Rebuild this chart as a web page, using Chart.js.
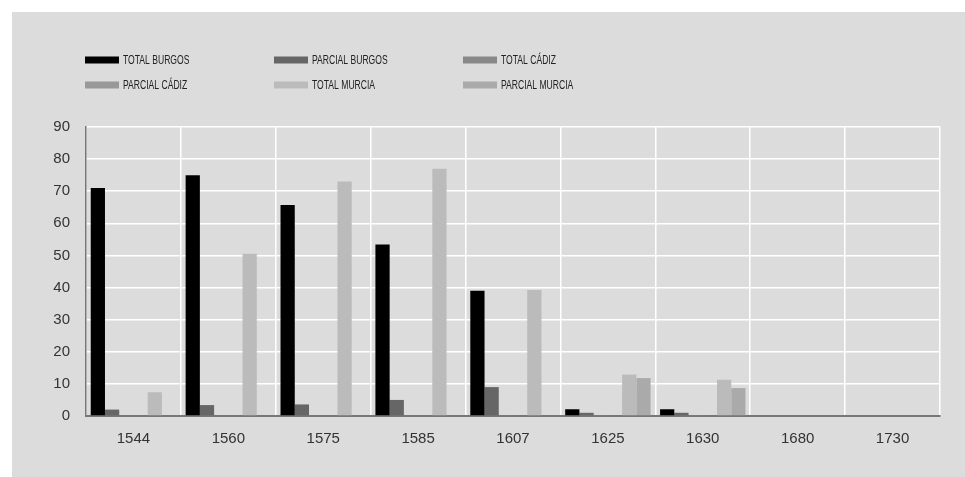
<!DOCTYPE html>
<html>
<head>
<meta charset="utf-8">
<script src="https://cdn.jsdelivr.net/npm/chart.js@4"></script>
<style>
html,body{margin:0;padding:0;background:#ffffff;}
#wrap{position:relative;width:965px;height:477px;}
</style>
</head>
<body>
<div id="wrap"><canvas id="c" width="965" height="477"></canvas></div>
<script>
const categories = ['1544','1560','1575','1585','1607','1625','1630','1680','1730'];
const totalBurgos   = [71, 75, 65.7, 53.4, 39, 2.1, 2.1, 0, 0];
const parcialBurgos = [2, 3.4, 3.6, 5, 9, 1, 1, 0, 0];
const totalCadiz    = [0, 0, 0, 0, 0.3, 0.3, 0.3, 0, 0];
const parcialCadiz  = [0, 0, 0, 0, 0, 0, 0, 0, 0];
const totalMurcia   = [7.4, 50.5, 73, 77, 39.2, 12.9, 11.3, 0, 0];
const parcialMurcia = [0, 0, 0, 0, 0, 11.8, 8.7, 0, 0];
const seriesNames = ['TOTAL BURGOS','PARCIAL BURGOS','TOTAL CÁDIZ','PARCIAL CÁDIZ','TOTAL MURCIA','PARCIAL MURCIA'];
const seriesColors = ['#000000','#666666','#888888','#999999','#bbbbbb','#aaaaaa'];
const yTicks = [0,10,20,30,40,50,60,70,80,90];

const seriesData = [totalBurgos, parcialBurgos, totalCadiz, parcialCadiz, totalMurcia, parcialMurcia];

const FONT = "'Liberation Sans', Arial, sans-serif";

const bgPlugin = {
  id: 'panelBg',
  beforeDraw(chart) {
    const ctx = chart.ctx;
    ctx.save();
    ctx.fillStyle = '#dcdcdc';
    ctx.fillRect(12, 12, chart.width - 12, chart.height - 12);
    ctx.restore();
  }
};

const legendPlugin = {
  id: 'gridLegend',
  afterDraw(chart) {
    const ctx = chart.ctx;
    const colX = [85, 274, 463];
    const rowY = [60, 85];
    chart.data.datasets.forEach((ds, i) => {
      const x = colX[i % 3];
      const y = rowY[Math.floor(i / 3)];
      ctx.save();
      ctx.fillStyle = ds.backgroundColor;
      ctx.fillRect(x, y - 3.5, 34, 7);
      ctx.font = "13px " + FONT;
      ctx.textBaseline = 'middle';
      ctx.textAlign = 'left';
      ctx.fillStyle = '#222222';
      ctx.translate(x + 38, y + 0.5);
      ctx.scale(0.66, 1);
      ctx.fillText(ds.label, 0, 0);
      ctx.restore();
    });
  }
};

new Chart(document.getElementById('c'), {
  type: 'bar',
  data: {
    labels: categories,
    datasets: seriesNames.map((name, i) => ({
      label: name,
      data: seriesData[i],
      backgroundColor: seriesColors[i],
      borderWidth: 0,
      categoryPercentage: 0.9,
      barPercentage: 1.0
    }))
  },
  options: {
    responsive: false,
    animation: false,
    devicePixelRatio: 1,
    layout: { padding: { left: 12, top: 127, right: 25, bottom: 0 } },
    plugins: { legend: { display: false }, tooltip: { enabled: false } },
    scales: {
      x: {
        offset: true,
        grid: { color: '#ffffff', lineWidth: 1.5, offset: true, drawTicks: false },
        border: { color: '#777777', width: 2 },
        ticks: { color: '#333333', font: { family: FONT, size: 15 }, padding: 14 },
        afterFit(scale) { scale.height = 61; }
      },
      y: {
        min: 0, max: 90,
        afterBuildTicks(scale) { scale.ticks = yTicks.map(v => ({ value: v })); },
        grid: { color: '#ffffff', lineWidth: 1.5, drawTicks: false },
        border: { color: '#777777', width: 1.5 },
        ticks: { color: '#333333', font: { family: FONT, size: 15 }, padding: 16 },
        afterFit(scale) { scale.width = 74; }
      }
    }
  },
  plugins: [bgPlugin, legendPlugin]
});
</script>
</body>
</html>
